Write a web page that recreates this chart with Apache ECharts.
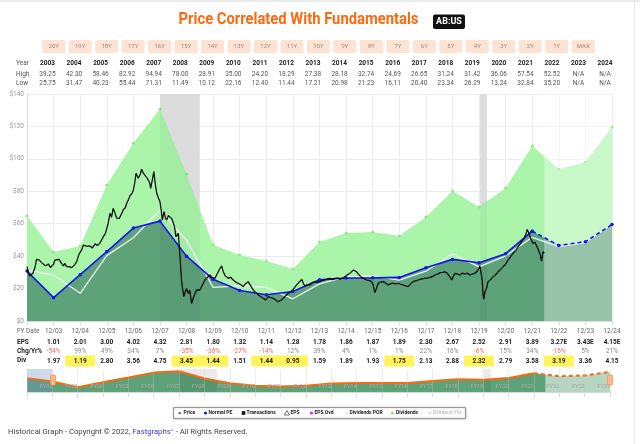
<!DOCTYPE html>
<html><head><meta charset="utf-8">
<script src="https://cdn.jsdelivr.net/npm/echarts@6/dist/echarts.min.js"></script>
<style>html,body{margin:0;padding:0;background:#fff}#c{width:640px;height:444px}</style>
</head><body><div id="c"></div>
<script>
// ---------- DATA ----------
const tableYears = [2003,2004,2005,2006,2007,2008,2009,2010,2011,2012,2013,2014,2015,2016,2017,2018,2019,2020,2021,2022,2023,2024];
const highs = ['39.25','42.30','58.46','82.92','94.94','78.00','28.91','35.00','24.20','18.29','27.38','28.18','32.74','24.69','26.65','31.24','31.42','36.06','57.54','52.52','N/A','N/A'];
const lows  = ['25.75','31.47','40.23','55.44','71.31','11.49','10.12','22.16','12.40','11.44','17.21','20.98','21.23','16.11','20.40','23.34','26.29','13.24','32.84','35.20','N/A','N/A'];
const rangeButtons = ['20Y','19Y','18Y','17Y','16Y','15Y','14Y','13Y','12Y','11Y','10Y','9Y','8Y','7Y','6Y','5Y','4Y','3Y','2Y','1Y','MAX'];

// fiscal year ends 12/02 ... 12/24 (value 2002 = 12/02)
const fyYears = [2002,2003,2004,2005,2006,2007,2008,2009,2010,2011,2012,2013,2014,2015,2016,2017,2018,2019,2020,2021,2022,2023,2024];
const normalPE   = [30.8,14.4,28.6,42.8,57.3,61.6,40.0,25.7,18.8,16.2,18.2,25.4,26.5,26.6,26.9,32.8,38.0,35.9,41.5,55.4,46.6,48.9,59.5];
const dividendsPOR = [31.4,28.4,17.1,40.3,51.3,68.4,49.7,20.7,21.7,20.7,13.7,22.9,27.2,27.8,25.2,30.7,41.5,33.4,40.2,51.6,45.9,48.4,59.8];
const dividendsArea = [64.8,42.6,46.3,83.9,109.8,130.8,90.7,47.0,40.7,37.0,32.0,48.7,54.3,54.9,52.4,64.2,80.2,70.3,82.0,108.0,93.8,98.1,119.7];

// bottom table (12/03 ... 12/24)
const epsRow = ['1.01','2.01','3.00','4.02','4.32','2.81','1.80','1.32','1.14','1.28','1.78','1.86','1.87','1.89','2.30','2.67','2.52','2.91','3.89','3.27E','3.43E','4.15E'];
const chgRow = ['-54%','99%','49%','34%','7%','-35%','-36%','-27%','-14%','12%','39%','4%','1%','1%','22%','16%','-6%','15%','34%','-16%','5%','21%'];
const divRow = ['1.97','1.19','2.80','3.56','4.75','3.45','1.44','1.51','1.44','0.95','1.59','1.89','1.93','1.75','2.13','2.88','2.32','2.79','3.58','3.19','3.36','4.15'];
const divFlag = [0,1,0,0,0,1,1,0,1,1,0,0,0,1,0,0,1,0,0,1,0,0];

// monthly-ish price (x = fiscal-year position, y = $)
const price = [
[2002.00,33.5],[2002.05,30.0],[2002.10,27.8],[2002.14,28.4],[2002.22,29.4],[2002.30,33.0],[2002.36,38.0],[2002.46,37.6],[2002.55,36.0],[2002.62,35.5],[2002.70,34.0],[2002.80,35.2],[2002.88,33.0],[2002.93,31.9],
[2003.00,35.0],[2003.05,37.6],[2003.12,36.5],[2003.20,38.0],[2003.28,36.0],[2003.37,34.0],[2003.43,35.5],[2003.49,33.5],[2003.58,33.5],[2003.68,32.9],[2003.78,34.5],[2003.87,36.6],[2003.95,41.0],
[2004.06,44.0],[2004.12,46.9],[2004.18,47.6],[2004.25,46.0],[2004.37,46.3],[2004.45,45.0],[2004.56,47.6],[2004.65,46.5],[2004.74,48.0],[2004.87,52.0],[2004.95,54.0],[2004.99,56.5],
[2005.05,60.0],[2005.12,66.4],[2005.18,64.0],[2005.24,69.5],[2005.30,67.0],[2005.37,63.5],[2005.47,63.3],[2005.55,66.0],[2005.62,68.5],[2005.70,70.0],[2005.75,72.6],[2005.82,75.0],[2005.87,77.1],[2005.95,78.7],
[2006.00,80.8],[2006.05,85.0],[2006.10,91.1],[2006.18,88.0],[2006.25,90.0],[2006.31,93.6],[2006.38,91.0],[2006.44,90.1],[2006.50,88.5],[2006.56,87.0],[2006.62,85.0],[2006.65,81.8],[2006.70,86.0],[2006.77,92.1],[2006.82,85.0],[2006.88,78.8],[2006.94,76.0],
[2007.00,73.6],[2007.05,68.0],[2007.09,62.3],[2007.15,67.5],[2007.20,64.0],[2007.25,62.3],[2007.32,65.0],[2007.38,64.3],[2007.45,63.0],[2007.50,62.3],[2007.55,58.0],[2007.60,52.0],[2007.69,54.0],[2007.75,40.5],[2007.78,33.0],[2007.81,25.3],[2007.85,20.0],[2007.90,15.0],[2007.95,18.0],
[2008.00,20.1],[2008.06,17.0],[2008.12,19.0],[2008.19,10.8],[2008.25,14.0],[2008.32,17.0],[2008.38,19.2],[2008.45,18.0],[2008.50,19.1],[2008.56,21.0],[2008.63,22.2],[2008.69,25.3],[2008.75,26.0],[2008.88,28.4],[2008.95,27.0],
[2009.07,26.3],[2009.15,29.0],[2009.26,32.5],[2009.32,34.0],[2009.38,30.4],[2009.45,28.0],[2009.57,26.3],[2009.65,27.0],[2009.76,25.3],[2009.85,24.0],[2009.94,23.3],
[2010.03,22.5],[2010.13,21.2],[2010.22,23.0],[2010.32,24.3],[2010.40,22.0],[2010.51,19.1],[2010.60,17.5],[2010.70,16.1],[2010.80,15.0],[2010.88,14.0],[2010.97,13.0],
[2011.07,15.1],[2011.15,14.5],[2011.26,14.0],[2011.35,13.0],[2011.45,11.9],[2011.55,12.8],[2011.64,14.0],[2011.72,15.5],[2011.82,17.0],[2011.92,18.0],
[2012.01,19.5],[2012.10,21.5],[2012.20,23.3],[2012.27,24.0],[2012.33,25.7],[2012.40,23.0],[2012.45,21.6],[2012.55,22.5],[2012.64,22.2],[2012.72,23.5],[2012.83,24.3],[2012.92,23.8],
[2013.02,24.3],[2013.10,25.0],[2013.20,25.3],[2013.30,25.8],[2013.39,26.3],[2013.48,25.5],[2013.58,26.3],[2013.68,26.5],[2013.77,25.7],[2013.87,26.5],[2013.95,27.3],
[2014.05,28.5],[2014.14,29.4],[2014.20,30.5],[2014.27,31.4],[2014.33,31.0],[2014.39,30.4],[2014.48,28.5],[2014.58,26.9],[2014.68,26.0],[2014.77,25.3],[2014.87,25.0],[2014.96,24.3],
[2015.02,22.0],[2015.08,17.5],[2015.14,20.0],[2015.21,23.3],[2015.30,24.0],[2015.39,24.3],[2015.48,23.5],[2015.58,22.2],[2015.68,23.0],[2015.77,23.3],[2015.87,22.8],[2015.96,23.3],
[2016.06,22.5],[2016.15,22.2],[2016.25,21.6],[2016.33,21.2],[2016.40,22.2],[2016.52,24.3],[2016.59,24.3],[2016.71,25.3],[2016.77,25.7],[2016.86,26.0],[2016.96,26.3],
[2017.05,26.5],[2017.15,26.9],[2017.25,27.5],[2017.34,28.4],[2017.45,29.0],[2017.53,29.8],[2017.62,30.0],[2017.71,30.4],[2017.80,29.5],[2017.90,27.3],[2017.97,25.3],
[2018.03,27.5],[2018.09,29.4],[2018.18,29.0],[2018.28,28.4],[2018.37,29.5],[2018.47,29.0],[2018.56,29.5],[2018.65,28.4],[2018.75,29.0],[2018.84,29.4],[2018.92,30.5],[2018.98,32.0],
[2019.03,34.0],[2019.08,33.0],[2019.12,25.0],[2019.15,16.0],[2019.18,13.5],[2019.22,18.0],[2019.28,20.0],[2019.34,24.3],[2019.43,25.5],[2019.53,27.3],[2019.62,28.5],[2019.72,30.4],[2019.82,32.0],[2019.91,33.5],
[2020.00,35.0],[2020.09,37.6],[2020.18,39.5],[2020.28,41.7],[2020.38,43.5],[2020.47,45.8],[2020.55,47.5],[2020.60,48.9],[2020.68,50.5],[2020.72,52.0],[2020.77,54.0],[2020.81,56.5],[2020.85,55.0],[2020.88,54.0],[2020.92,52.0],[2020.97,49.9],
[2021.02,48.0],[2021.06,46.9],[2021.10,48.5],[2021.16,47.9],[2021.20,45.0],[2021.26,43.8],[2021.30,41.0],[2021.35,37.0],[2021.38,40.0],[2021.41,42.8],[2021.45,42.0]
];
const recessions = [[2007.0, 2008.5], [2019.04, 2019.30]];
const estimateStart = 2021.45;

// navigator (FY01 ... FY24)
const navYears = [2001,2002,2003,2004,2005,2006,2007,2008,2009,2010,2011,2012,2013,2014,2015,2016,2017,2018,2019,2020,2021,2022,2023,2024];
const navValues = [41.0,30.8,14.4,28.6,42.8,57.3,61.6,40.0,25.7,18.8,16.2,18.2,25.4,26.5,26.6,26.9,32.8,38.0,35.9,41.5,55.4,46.6,48.9,59.5];

// ---------- CHART ----------
const FONT = 'Roboto, "Liberation Sans", sans-serif';
const chart = echarts.init(document.getElementById('c'), null, {renderer: 'canvas'});
const pair = (xs, ys) => xs.map((x, i) => [x, ys[i]]);
const solidIdx = fyYears.indexOf(2021);

const graphic = [];
graphic.push({type:'rect', shape:{x:0,y:0,width:640,height:2}, style:{fill:'#ececec'}, silent:true});
graphic.push({type:'rect', shape:{x:634,y:0,width:1,height:444}, style:{fill:'#e6e6e6'}, silent:true});
// title
graphic.push({type:'text', x:298.5, y:20, scaleX:0.87, style:{text:'Price Correlated With Fundamentals', fill:'#fa6a10', font:'bold 17px ' + FONT, align:'center', verticalAlign:'middle'}});
graphic.push({type:'rect', shape:{x:433,y:14.5,width:32,height:14.5,r:2}, style:{fill:'#111'}});
graphic.push({type:'text', x:449, y:22, style:{text:'AB:US', fill:'#fff', font:'bold 9px ' + FONT, align:'center', verticalAlign:'middle'}});
// range buttons
rangeButtons.forEach((b, i) => {
  const cx = 53.7 + 26.475 * i;
  graphic.push({type:'rect', shape:{x:cx-11.5,y:40,width:23,height:13,r:1.5}, style:{fill:'#fde3d3'}});
  graphic.push({type:'text', x:cx, y:46.5, style:{text:b, fill:'#a98470', font:'6px ' + FONT, align:'center', verticalAlign:'middle'}});
});
// Year / High / Low table
[['Year',63],['High',74],['Low',83]].forEach(r => graphic.push({type:'text', x:16, y:r[1], style:{text:r[0], fill:'#555', font:'6.5px ' + FONT, align:'left', verticalAlign:'middle'}}));
tableYears.forEach((y, i) => {
  const cx = 47.5 + 26.55 * i;
  graphic.push({type:'text', x:cx, y:63, style:{text:String(y), fill:'#222', font:'bold 6.5px ' + FONT, align:'center', verticalAlign:'middle'}});
  graphic.push({type:'text', x:cx, y:74, style:{text:highs[i], fill:'#555', font:'6.5px ' + FONT, align:'center', verticalAlign:'middle'}});
  graphic.push({type:'text', x:cx, y:83, style:{text:lows[i], fill:'#555', font:'6.5px ' + FONT, align:'center', verticalAlign:'middle'}});
});
// bottom row labels
[['FY Date',331,'normal','#666'],['EPS',342,'bold','#222'],['Chg/Yr%',351,'bold','#222'],['Div',360,'bold','#222']].forEach(r =>
  graphic.push({type:'text', x:17, y:r[1], style:{text:r[0], fill:r[3], font:r[2] + ' 6.5px ' + FONT, align:'left', verticalAlign:'middle'}}));
// navigator handles
[53, 610].forEach(hx => graphic.push({type:'rect', z:50, shape:{x:hx-2.5,y:375,width:5,height:10,r:1}, style:{fill:'#fbb88a', stroke:'#f08a40', lineWidth:0.6}}));
// legend
graphic.push({type:'rect', shape:{x:173.5,y:407.5,width:292,height:11}, style:{fill:'#fff', stroke:'#999', lineWidth:1, shadowColor:'rgba(0,0,0,0.25)', shadowBlur:2}});
const LY = 413;
const legendItems = [
  {sym:'line', c:'#111', x:180, t:'Price', tx:183.5},
  {sym:'dot', c:'#1414f0', x:205.5, t:'Normal PE', tx:208.5},
  {sym:'sq', c:'#111', x:243.5, t:'Transactions', tx:246.5},
  {sym:'tri', c:'#333', x:287, t:'EPS', tx:290.5},
  {sym:'dot', c:'#ee22ee', x:311.5, t:'EPS Ovd', tx:314.5},
  {sym:'dot', c:'#e4eee4', x:346.5, t:'Dividends POR', tx:349.5},
  {sym:'dot', c:'#8ee88e', x:392.5, t:'Dividends', tx:396},
  {sym:'dot', c:'#e0e0e0', x:430, t:'Dividend Yld', tx:433, tc:'#c8c8c8'}
];
legendItems.forEach(it => {
  if (it.sym === 'line') graphic.push({type:'rect', shape:{x:it.x-1.5,y:LY-0.5,width:2.5,height:1.2}, style:{fill:it.c}});
  if (it.sym === 'dot') graphic.push({type:'circle', shape:{cx:it.x,cy:LY,r:1.6}, style:{fill:it.c}});
  if (it.sym === 'sq') graphic.push({type:'rect', shape:{x:it.x-1.8,y:LY-1.8,width:3.6,height:3.6}, style:{fill:it.c}});
  if (it.sym === 'tri') graphic.push({type:'polygon', shape:{points:[[it.x,LY-2.4],[it.x-2.6,LY+2],[it.x+2.6,LY+2]]}, style:{fill:'none', stroke:it.c, lineWidth:0.7}});
  graphic.push({type:'text', x:it.tx, y:LY, style:{text:it.t, fill:it.tc || '#222', font:'bold 5px ' + FONT, align:'left', verticalAlign:'middle'}});
});
// footer
graphic.push({type:'text', x:8, y:432, style:{
  text:'{a|Historical Graph - Copyright © 2022, }{b|Fastgraphs}{s|™}{a| - All Rights Reserved.}',
  rich:{a:{fill:'#444', font:'7.7px ' + FONT}, b:{fill:'#3b3bd8', font:'7.7px ' + FONT}, s:{fill:'#3b3bd8', font:'5px ' + FONT}},
  align:'left', verticalAlign:'middle'}});

const tokenStyle = {
  d:{color:'#666', fontSize:6.5, fontFamily:FONT, lineHeight:13},
  e:{color:'#1a1a1a', fontSize:6.5, fontWeight:'bold', fontFamily:FONT, lineHeight:9},
  cp:{color:'#888', fontSize:6.5, fontFamily:FONT, lineHeight:9},
  cn:{color:'#ec6a66', fontSize:6.5, fontFamily:FONT, lineHeight:9},
  v:{color:'#1a1a1a', fontSize:6.5, fontWeight:'bold', fontFamily:FONT, lineHeight:11},
  vh:{color:'#1a1a1a', fontSize:6.5, fontWeight:'bold', fontFamily:FONT, lineHeight:11, height:11, width:30, align:'center', backgroundColor:'#fff35a'}
};

const option = {
  animation: false,
  backgroundColor: '#fff',
  grid: [
    {left:27, right:28, top:94, height:227},
    {left:27, right:30, top:369, height:23}
  ],
  xAxis: [
    {type:'value', gridIndex:0, min:2002, max:2024, interval:1,
     axisLine:{show:true, lineStyle:{color:'#dcdcdc'}},
     axisTick:{show:true, length:4, lineStyle:{color:'#dcdcdc'}},
     splitLine:{show:true, lineStyle:{color:'#ececec'}},
     axisLabel:{margin:3.5, align:'center', rich:tokenStyle,
       formatter:function(v){
         const y = Math.round(v); const i = y - 2003;
         if (i < 0) return '';
         const cs = chgRow[i].charAt(0) === '-' ? 'cn' : 'cp';
         const vs = divFlag[i] ? 'vh' : 'v';
         return '{d|12/' + String(y % 100).padStart(2,'0') + '}\n{e|' + epsRow[i] + '}\n{' + cs + '|' + chgRow[i] + '}\n{' + vs + '|' + divRow[i] + '}';
       }}},
    {type:'value', gridIndex:1, min:2001, max:2024, interval:1, z:10,
     axisLine:{show:true, lineStyle:{color:'#d8d8d8'}},
     axisTick:{show:true, length:5, lineStyle:{color:'#dcdcdc'}},
     splitLine:{show:true, lineStyle:{color:'rgba(200,200,200,0.35)'}},
     axisLabel:{inside:true, margin:2, align:'right', fontSize:5.5, color:'#a9a9a9', fontFamily:FONT,
       formatter:function(v){ const y = Math.round(v); return y < 2002 ? '' : 'FY' + String(y % 100).padStart(2,'0'); }}}
  ],
  yAxis: [
    {type:'value', gridIndex:0, min:0, max:140, interval:20,
     axisLine:{show:true, lineStyle:{color:'#dcdcdc'}}, axisTick:{show:false},
     splitLine:{lineStyle:{color:'#ececec'}},
     axisLabel:{formatter:'${value}', fontSize:6.5, color:'#999', margin:3, fontFamily:FONT}},
    {type:'value', gridIndex:1, min:0, max:68, show:false, splitLine:{show:false}}
  ],
  series: [
    {name:'Recessions', type:'line', xAxisIndex:0, yAxisIndex:0, data:[], z:0, silent:true,
     markArea:{silent:true, z:0.5, data: recessions.map(r => [{xAxis:r[0], itemStyle:{color:'#e5e5e5'}}, {xAxis:r[1]}])}},
    {name:'Dividends', type:'line', xAxisIndex:0, yAxisIndex:0, data:pair(fyYears, dividendsArea), z:1, silent:true,
     symbol:'circle', symbolSize:3, showSymbol:true, itemStyle:{color:'#86ec86'},
     lineStyle:{width:0}, areaStyle:{color:'#abf5ab', opacity:1}},
    {name:'Earnings', type:'line', xAxisIndex:0, yAxisIndex:0, data:pair(fyYears, normalPE), z:1, silent:true,
     symbol:'none', lineStyle:{width:0}, areaStyle:{color:'#5da279', opacity:1},
     markArea:{silent:true, z:2, data:[
       ...recessions.map(r => [{xAxis:r[0], itemStyle:{color:'rgba(0,0,0,0.04)'}}, {xAxis:r[1]}]),
       [{xAxis:estimateStart, itemStyle:{color:'rgba(255,255,255,0.36)'}}, {xAxis:2024}]
     ]}},
    {name:'Dividends POR', type:'line', xAxisIndex:0, yAxisIndex:0, data:pair(fyYears, dividendsPOR), z:3, silent:true,
     symbol:'none', lineStyle:{color:'#f2f2f2', width:1.3}},
    {name:'Normal PE', type:'line', xAxisIndex:0, yAxisIndex:0, data:pair(fyYears.slice(0, solidIdx + 1), normalPE.slice(0, solidIdx + 1)), z:4, silent:true,
     symbol:'circle', symbolSize:3.5, itemStyle:{color:'#1515ee'}, lineStyle:{color:'#1515ee', width:1.6}},
    {name:'Normal PE est', type:'line', xAxisIndex:0, yAxisIndex:0, data:pair(fyYears.slice(solidIdx), normalPE.slice(solidIdx)), z:4, silent:true,
     symbol:'circle', symbolSize:3.5, itemStyle:{color:'#1515ee'}, lineStyle:{color:'#1515ee', width:1.6, type:[4,3]}},
    {name:'Price', type:'line', xAxisIndex:0, yAxisIndex:0, data:price, z:5, silent:true,
     symbol:'none', lineStyle:{color:'#000', width:1.2}},
    // navigator
    {name:'nav area', type:'line', xAxisIndex:1, yAxisIndex:1, data:pair(navYears, navValues), z:1, silent:true,
     symbol:'none', lineStyle:{width:0}, areaStyle:{color:'#5da279', opacity:1},
     markArea:{silent:true, z:2, data:[
       [{xAxis:2001, itemStyle:{color:'rgba(110,140,200,0.33)'}}, {xAxis:2002}],
       ...recessions.map(r => [{xAxis:r[0], itemStyle:{color:'rgba(0,0,0,0.08)'}}, {xAxis:r[1]}]),
       [{xAxis:estimateStart, itemStyle:{color:'rgba(255,255,255,0.55)'}}, {xAxis:2024}]
     ]}},
    {name:'nav line', type:'line', xAxisIndex:1, yAxisIndex:1, data:pair(navYears.slice(0, navYears.indexOf(2021) + 1), navValues.slice(0, navYears.indexOf(2021) + 1)), z:3, silent:true,
     symbol:'none', lineStyle:{color:'#f66a10', width:2}},
    {name:'nav line est', type:'line', xAxisIndex:1, yAxisIndex:1, data:pair(navYears.slice(navYears.indexOf(2021)), navValues.slice(navYears.indexOf(2021))), z:3, silent:true,
     symbol:'none', lineStyle:{color:'#f66a10', width:2, type:[4,3]}}
  ],
  graphic: graphic
};
chart.setOption(option);
</script>
</body></html>
